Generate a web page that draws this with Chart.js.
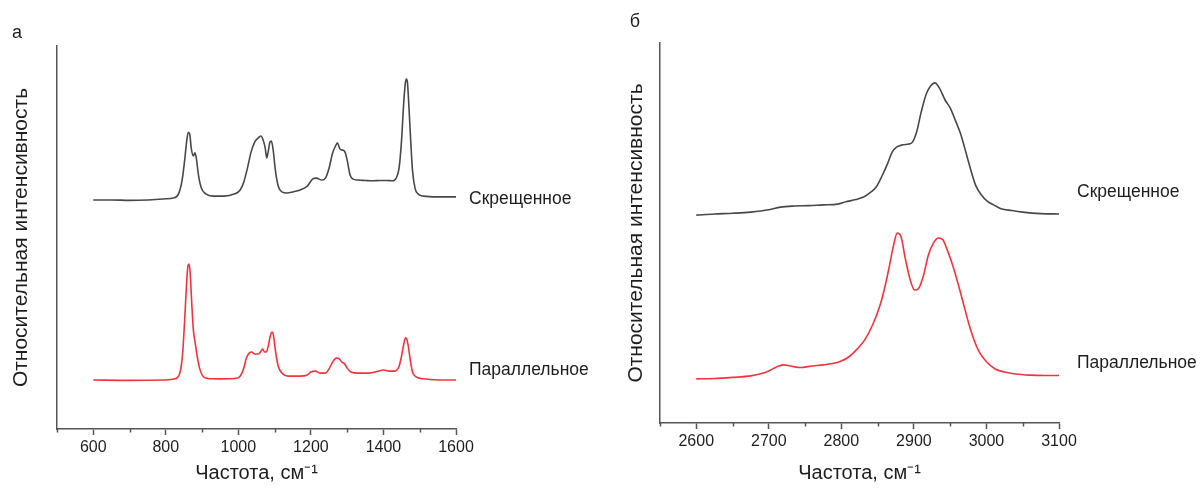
<!DOCTYPE html>
<html>
<head>
<meta charset="utf-8">
<script src="https://cdn.jsdelivr.net/npm/chart.js@4/dist/chart.umd.min.js"></script>
<style>
  html, body { margin: 0; padding: 0; background: #fff; }
  #wrap { position: relative; width: 1200px; height: 489px; }
  canvas { position: absolute; top: 0; }
  #c1 { left: 0; }
  #c2 { left: 600px; }
</style>
</head>
<body>
<div id="wrap">
  <canvas id="c1" width="600" height="489"></canvas>
  <canvas id="c2" width="600" height="489"></canvas>
</div>
<script>
// ---------- DATA ----------
const panelLetters = ['а', 'б'];
const seriesNames = ['Скрещенное', 'Параллельное'];
const axisTitleX = 'Частота, см⁻¹';
const axisTitleY = 'Относительная интенсивность';

// Panel a (600–1600 cm-1)
const leftMajorTicks = [600, 800, 1000, 1200, 1400, 1600];
const leftMinorTicks = [500, 700, 900, 1100, 1300, 1500];

const leftCrossedX = [600,650,700,750,800,820,835,845,852,858,862,866,870,876,880,884,890,898,910,930,960,990,1005,1015,1025,1035,1045,1055,1062,1068,1074,1078,1082,1087,1091,1096,1102,1110,1120,1135,1150,1170,1190,1205,1215,1230,1240,1250,1260,1268,1273,1280,1288,1294,1300,1308,1315,1330,1350,1370,1390,1410,1425,1435,1443,1450,1455,1460,1463,1466,1470,1475,1480,1487,1495,1510,1550,1600];
const leftCrossedY = [59.8,59.8,59.7,59.8,60.1,60.3,61.4,65.0,70.2,75.5,77.5,77.0,73.4,71.3,72.1,70.8,66.3,62.9,61.4,60.8,60.8,61.4,62.4,64.5,68.1,72.3,74.9,76.0,76.5,75.5,73.4,70.8,72.3,74.9,75.2,72.8,67.6,63.4,61.9,61.6,61.9,62.4,63.4,65.3,65.5,65.0,65.5,68.1,72.1,73.9,74.7,73.1,72.8,72.3,70.2,66.3,65.3,65.0,64.9,64.8,64.9,64.9,64.8,65.5,68.1,75.5,83.8,90.1,91.4,90.6,84.6,75.5,67.6,62.9,61.4,60.8,60.6,60.6];

const leftParallelX = [600,700,800,825,838,846,852,857,861,864,867,871,876,881,886,893,902,915,950,990,1005,1015,1022,1030,1037,1045,1055,1063,1067,1072,1077,1083,1088,1093,1097,1102,1110,1120,1140,1170,1190,1200,1212,1225,1240,1250,1260,1270,1277,1285,1293,1300,1310,1330,1360,1385,1400,1415,1430,1443,1450,1456,1461,1464,1468,1474,1480,1490,1510,1550,1600];
const leftParallelY = [12.8,12.7,12.8,13.1,14.4,19.3,28.5,37.6,42.6,43.1,41.0,33.7,25.8,22.5,19.3,15.9,13.8,13.2,13.1,13.2,13.8,15.9,18.5,19.8,20.1,19.6,19.6,20.4,20.9,20.1,20.1,21.9,24.3,25.3,24.3,20.6,16.4,14.6,13.8,13.8,14.1,14.9,15.1,14.6,14.6,15.7,17.5,18.5,18.4,17.5,17.0,15.9,14.9,14.6,14.6,15.1,15.4,15.1,15.1,16.4,19.1,22.2,23.8,23.5,21.9,18.0,14.9,13.6,13.1,12.8,12.8];

// Panel б (2600–3100 cm-1)
const rightMajorTicks = [2600, 2700, 2800, 2900, 3000, 3100];
const rightMinorTicks = [2550, 2650, 2750, 2850, 2950, 3050];

const rightCrossedX = [2600,2625,2650,2675,2700,2716,2735,2755,2775,2795,2806,2820,2832,2841,2848,2856,2864,2870,2876,2885,2893,2898,2904,2910,2917,2923,2929,2935,2943,2950,2957,2964,2970,2976,2985,2993,3001,3010,3020,3035,3050,3075,3100];
const rightCrossedY = [54.7,55.0,55.2,55.5,56.1,56.8,57.1,57.2,57.4,57.6,58.2,58.8,59.6,60.8,62.1,65.0,68.4,71.3,72.6,73.2,73.4,73.9,76.8,81.8,86.6,88.7,89.5,88.2,85.0,82.9,79.7,76.3,72.4,68.2,62.6,60.0,58.4,57.4,56.4,55.9,55.5,55.1,55.0];

const rightParallelX = [2600,2625,2650,2675,2690,2700,2710,2720,2730,2743,2760,2775,2790,2800,2811,2822,2832,2843,2853,2860,2866,2872,2877,2882,2888,2895,2901,2906,2913,2920,2927,2934,2940,2946,2953,2961,2968,2975,2983,2990,3000,3012,3025,3040,3060,3080,3100];
const rightParallelY = [11.6,11.7,12.0,12.4,13.0,13.7,14.7,15.3,15.0,14.6,15.0,15.3,15.7,16.3,17.5,19.5,21.8,25.8,30.8,35.8,41.1,46.8,50.0,49.2,43.4,37.6,35.0,35.3,38.7,44.2,47.4,48.7,48.2,45.5,41.8,36.6,31.6,26.6,21.8,18.7,16.1,14.2,13.4,12.9,12.6,12.5,12.5];

// label anchor values (intensity units) for the series names
const leftLabelValues = [60.1, 15.4];
const rightLabelValues = [60.8, 15.8];

// ---------- RENDERING ----------
const FONT = '"Liberation Sans", Arial, sans-serif';
const AXIS_COLOR = '#555555';
const TEXT_COLOR = '#1e1e1e';
const CROSSED_COLOR = '#484848';
const PARALLEL_COLOR = '#f0343c';

function pts(xs, ys) { return xs.map((x, i) => ({ x: x, y: ys[i] })); }

const decorPlugin = {
  id: 'decor',
  afterDraw(chart, args, opts) {
    const ctx = chart.ctx;
    const xs = chart.scales.x, ys = chart.scales.y;
    ctx.save();
    // minor ticks
    ctx.strokeStyle = AXIS_COLOR;
    ctx.lineWidth = 1.5;
    const base = chart.chartArea.bottom;
    opts.minor.forEach(v => {
      const px = Math.round(xs.getPixelForValue(v)) + 0.5;
      ctx.beginPath();
      ctx.moveTo(px, base);
      ctx.lineTo(px, base + 3.5);
      ctx.stroke();
    });
    // series names
    ctx.fillStyle = TEXT_COLOR;
    ctx.font = '17.5px ' + FONT;
    ctx.textAlign = 'left';
    ctx.textBaseline = 'middle';
    opts.labels.forEach((lab, i) => {
      ctx.fillText(lab, xs.right + opts.labelDx, ys.getPixelForValue(opts.labelValues[i]));
    });
    // panel letter
    ctx.font = '18px ' + FONT;
    ctx.textAlign = 'center';
    ctx.fillText(opts.letter, opts.letterX, opts.letterY);
    ctx.restore();
  }
};

function makeChart(id, cfg) {
  return new Chart(document.getElementById(id), {
    type: 'line',
    data: {
      datasets: [
        { label: seriesNames[0], data: pts(cfg.cx, cfg.cy), borderColor: CROSSED_COLOR, borderWidth: 1.6, pointRadius: 0, cubicInterpolationMode: 'monotone', fill: false },
        { label: seriesNames[1], data: pts(cfg.px, cfg.py), borderColor: PARALLEL_COLOR, borderWidth: 1.6, pointRadius: 0, cubicInterpolationMode: 'monotone', fill: false }
      ]
    },
    options: {
      responsive: false,
      animation: false,
      devicePixelRatio: 1,
      layout: { padding: { left: 0, top: cfg.top, right: cfg.right, bottom: 0 } },
      plugins: {
        legend: { display: false },
        tooltip: { enabled: false },
        decor: { minor: cfg.minor, labels: seriesNames, labelValues: cfg.labelValues, labelDx: cfg.labelDx, letter: cfg.letter, letterX: cfg.letterX, letterY: cfg.letterY }
      },
      scales: {
        x: {
          type: 'linear',
          min: cfg.xmin, max: cfg.xmax,
          afterBuildTicks: s => { s.ticks = cfg.major.map(v => ({ value: v })); },
          afterFit: s => { s.height = cfg.xh; },
          ticks: { color: TEXT_COLOR, font: { family: FONT, size: 16 }, padding: 3, maxRotation: 0, autoSkip: false, callback: v => String(v) },
          grid: { display: true, drawOnChartArea: false, drawTicks: true, tickLength: 6, tickColor: AXIS_COLOR, tickWidth: 1.5 },
          border: { display: true, color: AXIS_COLOR, width: 1.5 },
          title: { display: true, text: axisTitleX, color: TEXT_COLOR, font: { family: FONT, size: 20 }, padding: { top: 0, bottom: 4 } }
        },
        y: {
          type: 'linear',
          min: 0, max: 100,
          afterFit: s => { s.width = cfg.yw; },
          ticks: { display: false },
          grid: { display: true, drawOnChartArea: false, drawTicks: false },
          border: { display: true, color: AXIS_COLOR, width: 1.5 },
          title: { display: true, text: axisTitleY, color: TEXT_COLOR, font: { family: FONT, size: 21 }, padding: { top: cfg.ytitlePad, bottom: 0 } }
        }
      }
    },
    plugins: [decorPlugin]
  });
}

makeChart('c1', {
  cx: leftCrossedX, cy: leftCrossedY, px: leftParallelX, py: leftParallelY,
  xmin: 500, xmax: 1600, major: leftMajorTicks, minor: leftMinorTicks,
  top: 46, right: 144, xh: 60, yw: 57, ytitlePad: 9,
  labelValues: leftLabelValues, labelDx: 13,
  letter: panelLetters[0], letterX: 17, letterY: 33
});

makeChart('c2', {
  cx: rightCrossedX, cy: rightCrossedY, px: rightParallelX, py: rightParallelY,
  xmin: 2550, xmax: 3100, major: rightMajorTicks, minor: rightMinorTicks,
  top: 43, right: 141, xh: 66, yw: 60, ytitlePad: 24,
  labelValues: rightLabelValues, labelDx: 18,
  letter: panelLetters[1], letterX: 35, letterY: 22
});
</script>
</body>
</html>
